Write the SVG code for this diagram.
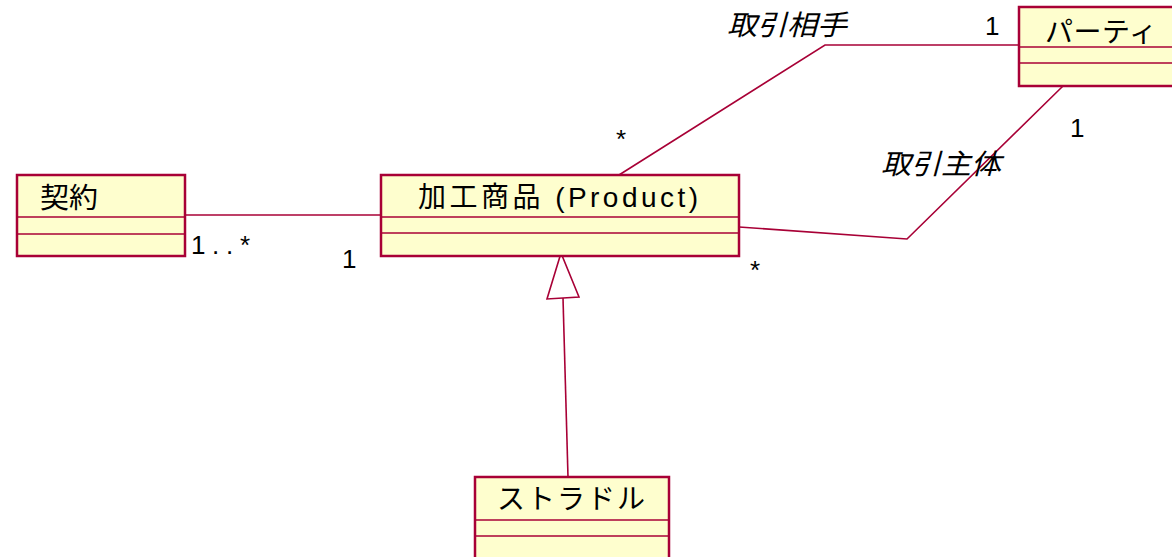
<svg xmlns="http://www.w3.org/2000/svg" width="1172" height="557" viewBox="0 0 1172 557">
<style>
.box{fill:#FEFECE;stroke:#A80036;stroke-width:2.5}
.div{stroke:#A80036;stroke-width:1.5}
.edge{fill:none;stroke:#A80036;stroke-width:1.6}
.name{font-family:"Liberation Sans","Noto Sans CJK JP",sans-serif;font-size:28px;fill:#000}
.lbl{font-family:"Liberation Sans","Noto Sans CJK JP",sans-serif;font-size:26px;fill:#000}
.role{font-family:"Liberation Sans","Noto Sans CJK JP",sans-serif;font-size:28px;font-style:italic;fill:#000}
</style>
<rect width="1172" height="557" fill="#fff"/>
<g id="edges">
<polyline class="edge" points="185,215 381,215"/>
<polyline class="edge" points="619,175 825,45 1019,45"/>
<polyline class="edge" points="739,227 907,239 1063,86"/>
<polyline class="edge" points="568,477 563,298"/>
<polygon class="edge" points="561,253 547,299 579,297"/>
<text class="lbl" x="191" y="254" textLength="59" lengthAdjust="spacing">1..*</text>
<text class="lbl" x="342" y="268">1</text>
<text class="lbl" x="750" y="279">*</text>
<text class="lbl" x="616" y="148">*</text>
<text class="lbl" x="985" y="35">1</text>
<text class="lbl" x="1070" y="137">1</text>
<text class="role" x="727" y="35" textLength="120" lengthAdjust="spacingAndGlyphs">取引相手</text>
<text class="role" x="881" y="174" textLength="120" lengthAdjust="spacingAndGlyphs">取引主体</text>
</g>
<g id="keiyaku">
<rect class="box" x="17" y="175" width="168" height="81"/>
<line class="div" x1="17" y1="217" x2="185" y2="217"/>
<line class="div" x1="17" y1="234" x2="185" y2="234"/>
<text class="name" x="40" y="208" textLength="58" lengthAdjust="spacingAndGlyphs">契約</text>
</g>
<g id="product">
<rect class="box" x="381" y="175" width="358" height="81"/>
<line class="div" x1="381" y1="217" x2="739" y2="217"/>
<line class="div" x1="381" y1="233" x2="739" y2="233"/>
<text class="name" x="418" y="207" textLength="280" lengthAdjust="spacing">加工商品 (Product)</text>
</g>
<g id="party">
<rect class="box" x="1019" y="7" width="170" height="79"/>
<line class="div" x1="1019" y1="47" x2="1189" y2="47"/>
<line class="div" x1="1019" y1="63" x2="1189" y2="63"/>
<text class="name" x="1045" y="42" textLength="112" lengthAdjust="spacing">パーティ</text>
</g>
<g id="straddle">
<rect class="box" x="475" y="477" width="194" height="90"/>
<line class="div" x1="475" y1="520" x2="669" y2="520"/>
<line class="div" x1="475" y1="536" x2="669" y2="536"/>
<text class="name" x="497" y="509" textLength="148" lengthAdjust="spacing">ストラドル</text>
</g>
</svg>
